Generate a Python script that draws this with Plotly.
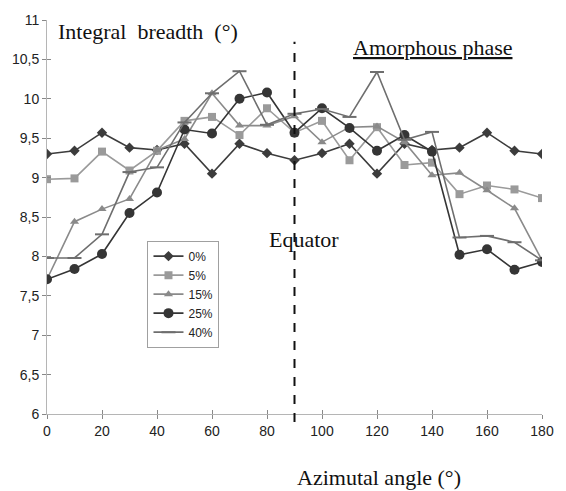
import plotly.graph_objects as go

angles = [0, 10, 20, 30, 40, 50, 60, 70, 80, 90, 100, 110, 120, 130, 140, 150, 160, 170, 180]
s0 = [9.30, 9.34, 9.57, 9.38, 9.35, 9.43, 9.05, 9.43, 9.31, 9.22, 9.31, 9.43, 9.05, 9.43, 9.35, 9.38, 9.57, 9.34, 9.30]
s5 = [8.98, 8.99, 9.33, 9.09, 9.34, 9.72, 9.77, 9.54, 9.88, 9.57, 9.72, 9.22, 9.64, 9.16, 9.19, 8.79, 8.90, 8.85, 8.74]
s15 = [7.71, 8.44, 8.60, 8.73, 9.35, 9.49, 10.07, 9.66, 9.66, 9.78, 9.45, 9.64, 9.65, 9.45, 9.03, 9.06, 8.84, 8.61, 7.95]
s25 = [7.71, 7.84, 8.03, 8.55, 8.81, 9.61, 9.56, 10.00, 10.08, 9.57, 9.88, 9.63, 9.34, 9.54, 9.33, 8.02, 8.09, 7.83, 7.93]
s40 = [7.98, 7.98, 8.28, 9.07, 9.13, 9.70, 10.07, 10.35, 9.67, 9.81, 9.87, 9.77, 10.34, 9.48, 9.58, 8.24, 8.26, 8.18, 7.95]

series_names = ["0%", "5%", "15%", "25%", "40%"]
x_ticks = [0, 20, 40, 60, 80, 100, 120, 140, 160, 180]
y_ticks = [6, 6.5, 7, 7.5, 8, 8.5, 9, 9.5, 10, 10.5, 11]
y_ticktext = ["6", "6,5", "7", "7,5", "8", "8,5", "9", "9,5", "10", "10,5", "11"]
equator_angle = 90

styles = [
    dict(color="#3c3c3c", symbol="diamond", size=8),
    dict(color="#9a9a9a", symbol="square", size=8),
    dict(color="#8a8a8a", symbol="triangle-up", size=8),
    dict(color="#353535", symbol="circle", size=10),
    dict(color="#6e6e6e", symbol="line-ew", size=10),
]

fig = go.Figure()
for name, vals, st in zip(series_names, [s0, s5, s15, s25, s40], styles):
    marker = dict(symbol=st["symbol"], size=st["size"], color=st["color"])
    if st["symbol"] == "line-ew":
        marker["line"] = dict(width=2, color=st["color"])
    fig.add_trace(go.Scatter(
        x=angles, y=vals, name=name, mode="lines+markers",
        line=dict(color=st["color"], width=1.6),
        marker=marker,
    ))

# empty trace for overlay axes (inner half of crossing ticks)
fig.add_trace(go.Scatter(x=[], y=[], xaxis="x2", yaxis="y2", showlegend=False, hoverinfo="skip"))

axis_col = "#b5b5b5"
fig.update_layout(
    width=566, height=491,
    margin=dict(l=45, r=14, t=16, b=77),
    paper_bgcolor="white", plot_bgcolor="white",
    font=dict(family="Liberation Sans, Arial, sans-serif", size=14, color="#222"),
    xaxis=dict(range=[0, 180], tickvals=x_ticks, showgrid=False, zeroline=False,
               showline=True, linecolor=axis_col, linewidth=1,
               ticks="outside", ticklen=4, tickcolor="#888", tickwidth=1,
               tickfont=dict(size=14, color="#222")),
    yaxis=dict(range=[6, 11], tickvals=y_ticks, ticktext=y_ticktext, showgrid=False,
               zeroline=False, showline=True, linecolor=axis_col, linewidth=1,
               ticks="outside", ticklen=4, tickcolor="#888", tickwidth=1,
               tickfont=dict(size=14, color="#222")),
    xaxis2=dict(range=[0, 180], tickvals=x_ticks, overlaying="x", anchor="y2",
                showgrid=False, zeroline=False, showline=False, showticklabels=False,
                ticks="inside", ticklen=4, tickcolor="#888", tickwidth=1),
    yaxis2=dict(range=[6, 11], tickvals=y_ticks, overlaying="y", anchor="x2",
                showgrid=False, zeroline=False, showline=False, showticklabels=False,
                ticks="inside", ticklen=4, tickcolor="#888", tickwidth=1),
    legend=dict(x=0.203, y=0.44, xanchor="left", yanchor="top",
                bordercolor="#a0a0a0", borderwidth=1, bgcolor="white",
                font=dict(size=12, color="#222"), tracegroupgap=0,
                itemwidth=30),
    showlegend=True,
)

fig.add_shape(type="line", xref="x", yref="paper", x0=equator_angle, x1=equator_angle,
              y0=-0.02, y1=0.945, line=dict(color="#111", width=2, dash="dash"))

serif = "Liberation Serif, Times New Roman, serif"
fig.add_annotation(text="Integral  breadth  (°)", xref="paper", yref="paper",
                   x=0.018, y=0.97, xanchor="left", yanchor="middle", showarrow=False,
                   font=dict(family=serif, size=22, color="#111"))
fig.add_annotation(text="<u>Amorphous phase</u>", xref="paper", yref="paper",
                   x=0.779, y=0.93, xanchor="center", yanchor="middle", showarrow=False,
                   font=dict(family=serif, size=22, color="#111"))
fig.add_annotation(text="Equator", xref="paper", yref="paper",
                   x=0.519, y=0.442, xanchor="center", yanchor="middle", showarrow=False,
                   font=dict(family=serif, size=22, color="#111"))
fig.add_annotation(text="Azimutal angle (°)", xref="paper", yref="paper",
                   x=0.671, y=-0.16, xanchor="center", yanchor="middle", showarrow=False,
                   font=dict(family=serif, size=22, color="#111"))

fig.write_html("out.html")
